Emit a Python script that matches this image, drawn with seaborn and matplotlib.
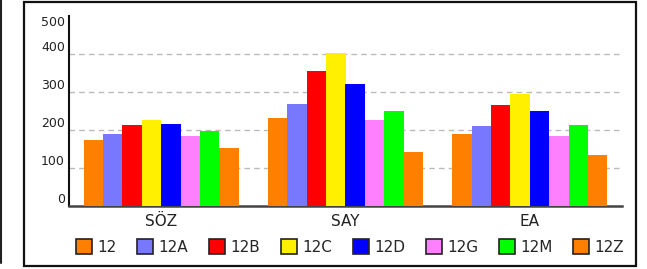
import matplotlib
matplotlib.use("Agg")
import matplotlib.pyplot as plt
import seaborn as sns
import pandas as pd
from matplotlib.patches import Rectangle, Patch
from matplotlib.lines import Line2D

categories = ["SÖZ", "SAY", "EA"]
classes = ["12", "12A", "12B", "12C", "12D", "12G", "12M", "12Z"]
values = {
    "12":  [173, 231, 189],
    "12A": [189, 268, 210],
    "12B": [213, 355, 266],
    "12C": [226, 403, 295],
    "12D": [216, 321, 250],
    "12G": [184, 226, 184],
    "12M": [197, 250, 213],
    "12Z": [152, 142, 134],
}
colors = ["#FF8000", "#7878FF", "#FF0000", "#FFF000", "#0000FF", "#FF80FF", "#00FF00", "#FF8000"]
yticks = [0, 100, 200, 300, 400, 500]

rows = []
for c in classes:
    for cat, v in zip(categories, values[c]):
        rows.append({"cat": cat, "cls": c, "val": v})
df = pd.DataFrame(rows)

sns.set_theme(style="white")
plt.rcParams["font.family"] = ["DejaVu Sans"]

W, H = 647, 269
fig = plt.figure(figsize=(W / 100, H / 100), dpi=100)
ax = fig.add_axes([69 / W, 1 - 205.7 / H, (622 - 69) / W, (205.7 - 16) / H])

palette = dict(zip(classes, colors))
sns.barplot(data=df, x="cat", y="val", hue="cls", hue_order=classes, order=categories,
            palette=palette, width=0.842, saturation=1, linewidth=0, edgecolor="none",
            ax=ax, legend=False, zorder=3, errorbar=None)

ax.set_xlim(-0.5, 2.5)
ax.set_ylim(0, 500)
ax.set_yticks(yticks)
ax.set_yticklabels([str(t) for t in yticks])
for lab in ax.get_yticklabels():
    lab.set_verticalalignment("bottom")
ax.get_yticklabels()[-1].set_verticalalignment("top")
ax.tick_params(axis="y", length=0, pad=3, labelsize=9, colors="#222222")
ax.tick_params(axis="x", length=0, pad=6, labelsize=11, colors="#222222")
ax.set_xlabel("")
ax.set_ylabel("")
for t in [100, 200, 300, 400]:
    ax.axhline(t, color="#bbbbbb", linewidth=1, linestyle=(0, (4, 3)), zorder=1)

for s in ["top", "right"]:
    ax.spines[s].set_visible(False)
ax.spines["left"].set_color("#111111")
ax.spines["left"].set_linewidth(1.5)
ax.spines["bottom"].set_color("#444444")
ax.spines["bottom"].set_linewidth(1.8)
ax.spines["bottom"].set_linestyle((0, (4, 1)))
ax.set_facecolor("white")

handles = [Patch(facecolor=col, edgecolor="#222222", linewidth=1.2) for col in colors]
fig.legend(handles, classes, loc="center", bbox_to_anchor=(350 / W, 1 - 247 / H), ncol=8,
           frameon=False, fontsize=11, handlelength=1.05, handleheight=1.05,
           handletextpad=0.35, columnspacing=1.35, borderaxespad=0)

# outer border
fig.patches.append(Rectangle((24 / W, 1 - 266 / H), (636 - 24) / W, (266 - 2) / H,
                             transform=fig.transFigure, fill=False, edgecolor="#111111",
                             linewidth=1.6))
fig.lines.append(Line2D([1 / W, 1 / W], [1 - 263 / H, 1], transform=fig.transFigure,
                        color="#222222", linewidth=1.5))

fig.savefig("out.png", dpi=100)
